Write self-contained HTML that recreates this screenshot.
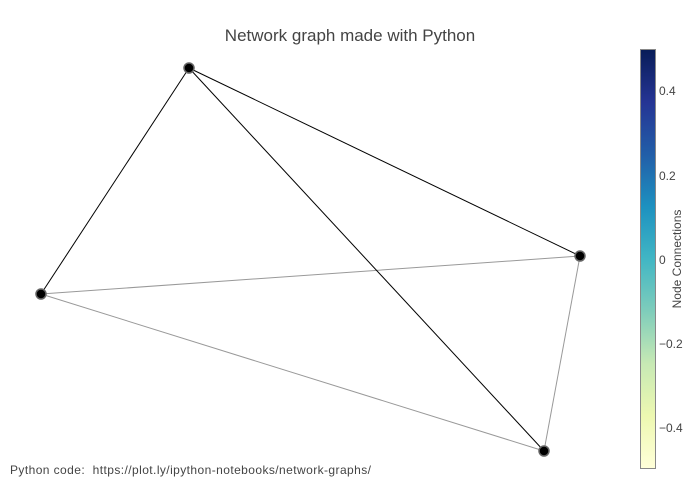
<!DOCTYPE html>
<html><head><meta charset="utf-8"><style>
html,body{margin:0;padding:0;background:#fff;}
svg{display:block;font-family:"Liberation Sans",sans-serif;}
</style></head><body>
<svg width="700" height="500" viewBox="0 0 700 500" xmlns="http://www.w3.org/2000/svg">
<defs>
<linearGradient id="cb" x1="0" y1="1" x2="0" y2="0">
<stop offset="0" stop-color="#ffffd9"/>
<stop offset="0.125" stop-color="#edf8b1"/>
<stop offset="0.25" stop-color="#c7e9b4"/>
<stop offset="0.375" stop-color="#7fcdbb"/>
<stop offset="0.5" stop-color="#41b6c4"/>
<stop offset="0.625" stop-color="#1d91c0"/>
<stop offset="0.75" stop-color="#225ea8"/>
<stop offset="0.875" stop-color="#253494"/>
<stop offset="1" stop-color="#081d58"/>
</linearGradient>
</defs>
<text x="350" y="41" text-anchor="middle" font-size="17" fill="#444">Network graph made with Python</text>
<g stroke="#999" stroke-width="1">
<line x1="41" y1="294" x2="580" y2="256"/>
<line x1="41" y1="294" x2="544" y2="451"/>
<line x1="580" y1="256" x2="544" y2="451"/>
</g>
<g stroke="#000" stroke-width="1">
<line x1="189" y1="68" x2="41" y2="294"/>
<line x1="189" y1="68" x2="580" y2="256"/>
<line x1="189" y1="68" x2="544" y2="451"/>
</g>
<g fill="#000" stroke="#666" stroke-width="1.5">
<circle cx="189" cy="68" r="5"/>
<circle cx="41" cy="294" r="5"/>
<circle cx="580" cy="256" r="5"/>
<circle cx="544" cy="451" r="5"/>
</g>
<rect x="640.5" y="49.5" width="15" height="419" fill="url(#cb)" stroke="#888" stroke-width="1"/>
<g font-size="12" fill="#444">
<text x="659" y="95">0.4</text>
<text x="659" y="180">0.2</text>
<text x="659" y="264">0</text>
<text x="659" y="348">−0.2</text>
<text x="659" y="432">−0.4</text>
</g>
<text transform="translate(681,259) rotate(-90)" text-anchor="middle" font-size="12" fill="#444">Node Connections</text>
<text x="10" y="474" font-size="12" fill="#444" textLength="361" lengthAdjust="spacing" style="white-space:pre">Python code:  https://plot.ly/ipython-notebooks/network-graphs/</text>
</svg>
</body></html>
